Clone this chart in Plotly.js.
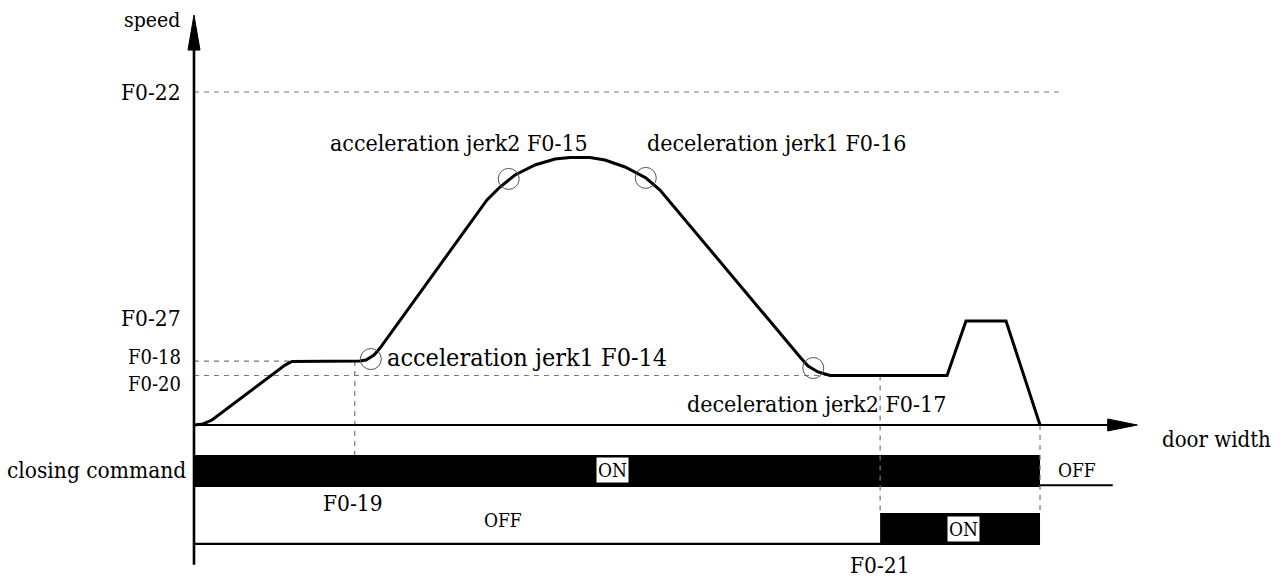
<!DOCTYPE html>
<html>
<head>
<meta charset="utf-8">
<script src="https://cdn.plot.ly/plotly-3.0.1.min.js"></script>
<style>html,body{margin:0;padding:0;background:#fff;}#chart{width:1283px;height:579px;}</style>
</head>
<body>
<div id="chart"></div>
<script>
// ---- data (door position 0..100 = full door width, speed 0..100 = F0-22) ----
const curveX = [0, 1.06, 2.13, 10.76, 11.58, 19.62, 20.33, 21.28, 21.99, 34.63, 36.17, 37.94, 40.31, 42.67, 44.44, 46.81, 48.58, 50.95, 53.43, 55.08, 71.63, 72.58, 73.76, 75.18, 89.01, 91.25, 95.98, 100];
const curveY = [0, 0.3, 1.5, 18.0, 19.07, 19.22, 19.52, 21.02, 23.12, 67.57, 71.47, 75.08, 78.08, 79.88, 80.33, 80.33, 79.58, 77.48, 74.17, 70.57, 20.42, 17.72, 15.92, 14.86, 14.86, 31.23, 31.23, 0];

const jerkX = [20.9, 37.2, 53.4, 73.2];
const jerkY = [19.8, 73.9, 74.2, 17.1];
const jerkLabels = ["acceleration jerk1 F0-14", "acceleration jerk2 F0-15", "deceleration jerk1 F0-16", "deceleration jerk2 F0-17"];

const levelNames = ["F0-22", "F0-27", "F0-18", "F0-20"];
const levelValues = [100, 31.23, 19.2, 14.86];
const levelLabelY = [100, 32.1, 20.4, 12.2];
const levelLabelSize = [22.5, 22.5, 20, 20];

const F019 = 19.0;   // closing command low-speed end
const F021 = 81.1;   // second signal ON start
const doorEnd = 100;

// signal rows (vertical positions below the speed axis)
const closingTop = -9.0, closingBottom = -18.6;
const closingOffEnd = 108.6;
const signal2Top = -26.4, signal2Bottom = -35.7;

// ---- drawing ----
const FONT = "DejaVu Serif Condensed, DejaVu Serif, Liberation Serif, serif";
const dashGray = {color: '#777', width: 1.2, dash: '5px,5px'};
const traces = [];

// dashed guides
traces.push({x: [0, 102.4], y: [levelValues[0], levelValues[0]], mode: 'lines', line: dashGray, hoverinfo: 'skip'});
traces.push({x: [0, F019 + 0.8], y: [levelValues[2], levelValues[2]], mode: 'lines', line: dashGray, hoverinfo: 'skip'});
traces.push({x: [0, 75.2], y: [levelValues[3], levelValues[3]], mode: 'lines', line: dashGray, hoverinfo: 'skip'});
traces.push({x: [F019, F019], y: [levelValues[2], closingTop], mode: 'lines', line: dashGray, hoverinfo: 'skip'});
traces.push({x: [F021, F021], y: [levelValues[3], signal2Top], mode: 'lines', line: dashGray, hoverinfo: 'skip'});
traces.push({x: [doorEnd, doorEnd], y: [0, signal2Top], mode: 'lines', line: dashGray, hoverinfo: 'skip'});

// signal bars
traces.push({type: 'bar', orientation: 'h', y: [(closingTop + closingBottom) / 2], x: [doorEnd], base: [0],
  width: [closingTop - closingBottom], marker: {color: '#000', line: {width: 0}}, hoverinfo: 'skip'});
traces.push({type: 'bar', orientation: 'h', y: [(signal2Top + signal2Bottom) / 2], x: [doorEnd - F021], base: [F021],
  width: [signal2Top - signal2Bottom], marker: {color: '#000', line: {width: 0}}, hoverinfo: 'skip'});
traces.push({x: [doorEnd, closingOffEnd], y: [closingBottom + 0.5, closingBottom + 0.5], mode: 'lines', line: {color: '#000', width: 2}, hoverinfo: 'skip'});
traces.push({x: [0, doorEnd], y: [signal2Bottom, signal2Bottom], mode: 'lines', line: {color: '#000', width: 2.2}, hoverinfo: 'skip'});

// axes with arrowheads
traces.push({x: [0, 0], y: [-42, 113], mode: 'lines', line: {color: '#000', width: 2.6}, hoverinfo: 'skip'});
traces.push({x: [-0.71, 0.71, 0, -0.71], y: [112.6, 112.6, 123.1, 112.6], mode: 'lines', fill: 'toself', fillcolor: '#000', line: {color: '#000', width: 1}, hoverinfo: 'skip'});
traces.push({x: [0, 108.2], y: [0, 0], mode: 'lines', line: {color: '#000', width: 2.2}, hoverinfo: 'skip'});
traces.push({x: [108, 108, 111.5, 108], y: [1.8, -1.8, 0, 1.8], mode: 'lines', fill: 'toself', fillcolor: '#000', line: {color: '#000', width: 1}, hoverinfo: 'skip'});

// speed curve
traces.push({x: curveX, y: curveY, mode: 'lines', line: {color: '#000', width: 3}, hoverinfo: 'skip'});

// jerk circles
traces.push({x: jerkX, y: jerkY, mode: 'markers', marker: {symbol: 'circle-open', size: 21, color: '#555', line: {width: 1, color: '#555'}}, hoverinfo: 'skip'});

const ann = [];
function txt(x, y, text, size, xanchor, extra) {
  ann.push(Object.assign({x: x, y: y, xref: 'x', yref: 'y', text: text, showarrow: false, xanchor: xanchor || 'center', yanchor: 'middle',
    font: {family: FONT, size: size, color: '#000'}}, extra || {}));
}
txt(-1.4, 121.6, 'speed', 21, 'right');
for (let i = 0; i < levelNames.length; i++) txt(-1.3, levelLabelY[i], levelNames[i], levelLabelSize[i], 'right');
txt(22.6, 20.2, jerkLabels[0], 25, 'left');
txt(31.3, 84.7, jerkLabels[1], 23, 'center');
txt(68.9, 84.7, jerkLabels[2], 23, 'center');
txt(73.6, 6.4, jerkLabels[3], 23, 'center');
txt(114.2, -4.5, 'door width', 22, 'left');
txt(-0.7, -13.6, 'closing command', 22.5, 'right');
txt(49.5, -13.6, 'ON', 19, 'center', {bgcolor: '#fff', borderpad: 1});
txt(90.9, -31.1, 'ON', 19, 'center', {bgcolor: '#fff', borderpad: 1});
txt(104.4, -13.6, 'OFF', 19, 'center');
txt(36.5, -28.5, 'OFF', 19, 'center');
txt(18.8, -23.4, 'F0-19', 22.5, 'center');
txt(81.1, -42.0, 'F0-21', 22.5, 'center');

const layout = {
  width: 1283, height: 579,
  margin: {l: 0, r: 0, t: 0, b: 0},
  paper_bgcolor: '#fff', plot_bgcolor: '#fff',
  showlegend: false, barmode: 'overlay',
  xaxis: {range: [-22.93, 128.72], visible: false, fixedrange: true},
  yaxis: {range: [-46.25, 127.63], visible: false, fixedrange: true},
  annotations: ann
};
Plotly.newPlot('chart', traces, layout, {displayModeBar: false, staticPlot: true});
</script>
</body>
</html>
